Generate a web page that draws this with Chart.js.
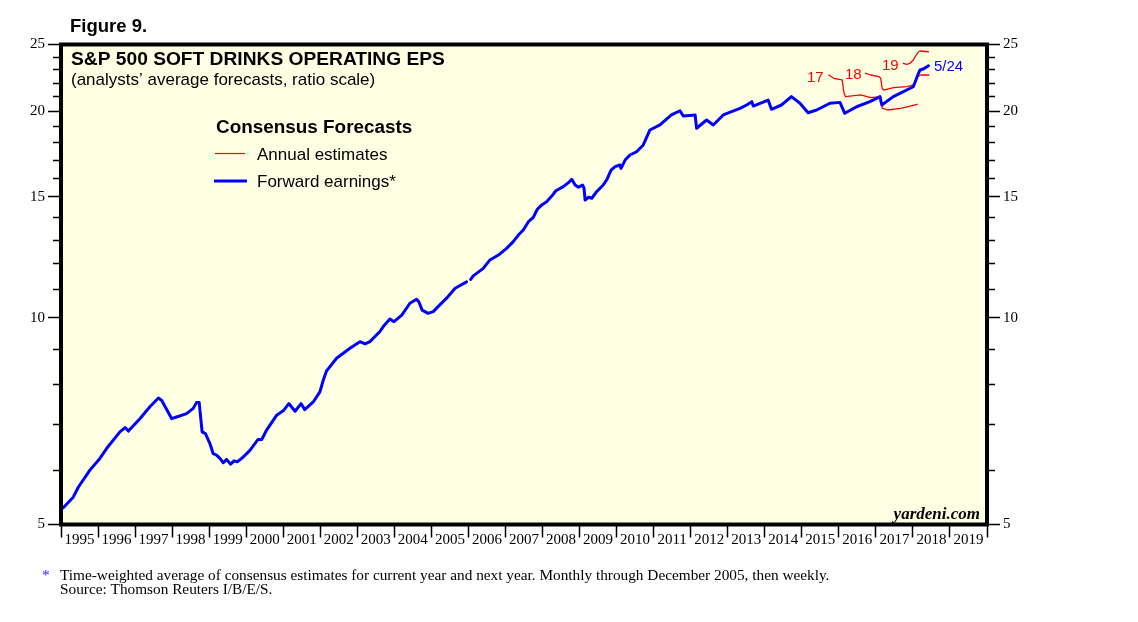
<!DOCTYPE html>
<html>
<head>
<meta charset="utf-8">
<script src="https://cdn.jsdelivr.net/npm/chart.js@4/dist/chart.umd.min.js"></script>
<style>
html,body{margin:0;padding:0;background:#fff;}
canvas{display:block;}
</style>
</head>
<body>
<canvas id="c" width="1138" height="622"></canvas>
<script>
// ---- Data (decimal years, EPS in $) ----
const yearTicks = [1995,1996,1997,1998,1999,2000,2001,2002,2003,2004,2005,2006,2007,2008,2009,2010,2011,2012,2013,2014,2015,2016,2017,2018,2019,2020];
const yTickValues = [5,6,7,8,9,10,11,12,13,14,15,16,17,18,19,20,21,22,23,24,25];
const yLabelValues = [5,10,15,20,25];

// Forward earnings (monthly through 2005, then weekly; null = break)
const fwdYears = [1995.06,1995.33,1995.47,1995.78,1996.05,1996.23,1996.59,1996.73,1996.82,1997.13,1997.40,1997.63,1997.72,1997.99,1998.12,1998.39,1998.57,1998.66,1998.73,1998.81,1998.90,1999.02,1999.11,1999.20,1999.29,1999.38,1999.47,1999.58,1999.67,1999.76,1999.92,2000.10,2000.32,2000.42,2000.55,2000.82,2001.00,2001.15,2001.32,2001.48,2001.58,2001.81,2001.99,2002.08,2002.17,2002.44,2002.80,2003.07,2003.21,2003.34,2003.61,2003.70,2003.88,2003.99,2004.20,2004.42,2004.60,2004.66,2004.75,2004.91,2005.05,2005.18,2005.41,2005.64,2005.95,
  2006.01,
  2006.06,2006.13,2006.40,2006.58,2006.81,2007.03,2007.21,2007.35,2007.48,2007.62,2007.75,2007.86,2007.98,2008.11,2008.25,2008.36,2008.56,2008.70,2008.79,2008.88,2008.97,2009.08,2009.12,2009.15,2009.24,2009.33,2009.46,2009.64,2009.73,2009.85,2009.96,2010.09,2010.12,2010.23,2010.36,2010.54,2010.72,2010.90,2011.17,2011.48,2011.71,2011.80,2012.12,2012.16,2012.43,2012.61,2012.88,2013.33,2013.51,2013.65,2013.69,2014.09,2014.18,2014.45,2014.72,2014.95,2015.17,2015.40,2015.76,2016.03,2016.16,2016.48,2016.84,2017.11,2017.16,2017.47,2018.01,2018.15,2018.19,2018.28,2018.42];
const fwdValues = [5.29,5.48,5.67,6.00,6.24,6.45,6.82,6.92,6.84,7.13,7.42,7.64,7.58,7.13,7.17,7.25,7.38,7.53,7.53,6.82,6.78,6.56,6.34,6.31,6.24,6.15,6.22,6.12,6.19,6.17,6.27,6.41,6.65,6.65,6.86,7.21,7.32,7.50,7.31,7.50,7.35,7.54,7.80,8.11,8.37,8.73,9.03,9.23,9.16,9.23,9.55,9.71,9.96,9.87,10.09,10.50,10.64,10.55,10.26,10.15,10.21,10.38,10.68,11.04,11.28,
  null,
  11.37,11.51,11.80,12.14,12.34,12.62,12.91,13.20,13.42,13.80,14.00,14.39,14.60,14.76,15.04,15.31,15.52,15.73,15.91,15.61,15.49,15.61,15.44,14.84,14.98,14.93,15.26,15.61,15.87,16.41,16.60,16.69,16.50,16.97,17.26,17.45,17.85,18.77,19.09,19.74,20.02,19.67,19.74,18.88,19.41,19.09,19.74,20.18,20.41,20.64,20.34,20.75,20.12,20.41,20.99,20.53,19.89,20.07,20.53,20.59,19.85,20.29,20.64,20.99,20.41,20.99,21.70,22.70,22.95,23.03,23.28];

// Annual estimates
const est17Years = [2015.73,2015.86,2016.09,2016.14,2016.18,2016.59,2016.86,2017.13,2017.17,2017.31,2017.67,2018.12];
const est17Values = [22.57,22.32,22.20,21.23,20.99,21.11,20.92,20.99,20.20,20.07,20.18,20.46];
const est18Years = [2016.72,2016.86,2017.08,2017.13,2017.17,2017.21,2017.48,2017.84,2018.02,2018.12,2018.21,2018.43];
const est18Values = [22.70,22.57,22.45,22.32,21.59,21.46,21.63,21.70,21.83,22.45,22.57,22.57];
const est19Years = [2017.74,2017.83,2017.92,2018.01,2018.06,2018.15,2018.19,2018.42];
const est19Values = [23.47,23.39,23.47,23.73,24.00,24.40,24.46,24.40];

const pts = (xs, ys) => xs.map((x, i) => ({x: x, y: ys[i]}));

const SERIF = '"Liberation Serif","Times New Roman",serif';
const SANS = '"Liberation Sans",Arial,sans-serif';

const decor = {
  id: 'decor',
  beforeDraw(chart) {
    const {ctx, chartArea: a} = chart;
    ctx.save();
    ctx.fillStyle = '#ffffff';
    ctx.fillRect(0, 0, chart.width, chart.height);
    ctx.fillStyle = '#ffffe4';
    ctx.fillRect(a.left, a.top, a.right - a.left, a.bottom - a.top);
    ctx.restore();
  },
  afterDraw(chart) {
    const {ctx, chartArea: a} = chart;
    const ys = chart.scales.y;
    ctx.save();
    // minor ticks
    ctx.strokeStyle = '#000';
    ctx.lineWidth = 1.5;
    yTickValues.forEach(v => {
      if (yLabelValues.includes(v)) return;
      const py = Math.round(ys.getPixelForValue(v)) + 0.5;
      ctx.beginPath();
      ctx.moveTo(a.left - 8, py); ctx.lineTo(a.left, py);
      ctx.moveTo(a.right, py); ctx.lineTo(a.right + 8, py);
      ctx.stroke();
    });
    // frame
    ctx.lineWidth = 4;
    ctx.strokeRect(a.left, a.top, a.right - a.left, a.bottom - a.top);

    ctx.fillStyle = '#000';
    ctx.textBaseline = 'alphabetic';
    ctx.textAlign = 'left';
    ctx.font = 'bold 18.5px ' + SANS;
    ctx.fillText('Figure 9.', 70, 31.5);
    ctx.font = 'bold 19.2px ' + SANS;
    ctx.fillText('S&P 500 SOFT DRINKS OPERATING EPS', 71, 64.5);
    ctx.font = '17px ' + SANS;
    ctx.fillText('(analysts\u2019 average forecasts, ratio scale)', 71, 84.5);

    // legend
    ctx.font = 'bold 18.9px ' + SANS;
    ctx.fillText('Consensus Forecasts', 216, 133);
    ctx.font = '17px ' + SANS;
    ctx.fillText('Annual estimates', 257, 159.5);
    ctx.fillText('Forward earnings*', 257, 186.5);
    ctx.strokeStyle = '#ff0000'; ctx.lineWidth = 1.2;
    ctx.beginPath(); ctx.moveTo(215, 153.5); ctx.lineTo(245, 153.5); ctx.stroke();
    ctx.strokeStyle = '#0000ff'; ctx.lineWidth = 3;
    ctx.beginPath(); ctx.moveTo(214, 181); ctx.lineTo(247, 181); ctx.stroke();

    // series labels
    ctx.font = '15px ' + SANS;
    ctx.fillStyle = '#ff0000';
    ctx.fillText('17', 807, 82);
    ctx.fillText('18', 845, 79);
    ctx.fillText('19', 882, 69.5);
    ctx.fillStyle = '#0000ff';
    ctx.fillText('5/24', 934, 71);

    // watermark
    ctx.fillStyle = '#000';
    ctx.textAlign = 'right';
    ctx.font = 'italic bold 17px ' + SERIF;
    ctx.fillText('yardeni.com', 980, 518.5);

    // footnote
    ctx.textAlign = 'left';
    ctx.font = '15.3px ' + SERIF;
    ctx.fillStyle = '#1a1aff';
    ctx.fillText('*', 42, 580);
    ctx.fillStyle = '#000';
    ctx.fillText('Time-weighted average of consensus estimates for current year and next year. Monthly through December 2005, then weekly.', 60, 580);
    ctx.fillText('Source: Thomson Reuters I/B/E/S.', 60, 594);
    ctx.restore();
  }
};

const yAxisCommon = {
  type: 'logarithmic',
  min: 5,
  max: 25,
  afterBuildTicks: s => { s.ticks = yTickValues.map(v => ({value: v})); },
  ticks: {
    autoSkip: false,
    padding: 3,
    color: '#000',
    font: {family: SERIF, size: 15},
    callback: v => yLabelValues.includes(v) ? String(v) : ''
  },
  grid: {
    drawOnChartArea: false,
    tickLength: 13,
    tickWidth: 1.5,
    tickColor: c => (c.tick && yLabelValues.includes(c.tick.value)) ? '#000' : 'rgba(0,0,0,0)'
  },
  border: {display: false}
};

new Chart(document.getElementById('c'), {
  type: 'line',
  data: {
    datasets: [
      {label: 'Forward earnings*', data: pts(fwdYears, fwdValues), borderColor: '#0000ff', borderWidth: 3, order: 0, spanGaps: false},
      {label: '2017', data: pts(est17Years, est17Values), borderColor: '#ff0000', borderWidth: 1.3, order: 1},
      {label: '2018', data: pts(est18Years, est18Values), borderColor: '#ff0000', borderWidth: 1.3, order: 1},
      {label: '2019', data: pts(est19Years, est19Values), borderColor: '#ff0000', borderWidth: 1.3, order: 1}
    ]
  },
  options: {
    responsive: false,
    animation: false,
    devicePixelRatio: 1,
    layout: {padding: {top: 44.5, left: 0, right: 0, bottom: 0}},
    elements: {point: {radius: 0}, line: {tension: 0, borderJoinStyle: 'round', borderCapStyle: 'round'}},
    plugins: {legend: {display: false}, tooltip: {enabled: false}, title: {display: false}},
    scales: {
      x: {
        type: 'linear',
        min: 1995,
        max: 2020,
        afterBuildTicks: s => { s.ticks = yearTicks.map(v => ({value: v})); },
        afterFit: s => { s.height = 622 - 524.5; },
        ticks: {
          autoSkip: false,
          maxRotation: 0,
          labelOffset: 18.5,
          padding: -6,
          color: '#000',
          font: {family: SERIF, size: 15},
          callback: v => v < 2020 ? String(v) : ''
        },
        grid: {drawOnChartArea: false, tickLength: 13, tickWidth: 1.5, tickColor: '#000'},
        border: {display: false}
      },
      y: Object.assign({}, yAxisCommon, {position: 'left', afterFit: s => { s.width = 61; }}),
      y2: Object.assign({}, yAxisCommon, {position: 'right', afterFit: s => { s.width = 1138 - 987; }})
    }
  },
  plugins: [decor]
});
</script>
</body>
</html>
